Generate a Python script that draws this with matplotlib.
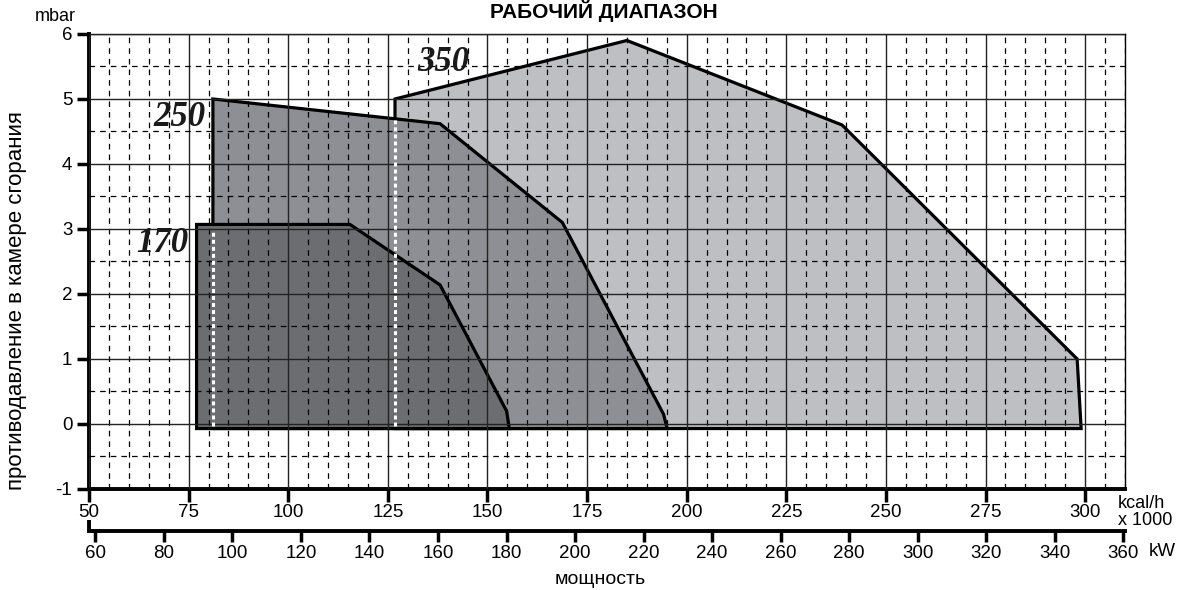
import numpy as np
import matplotlib.pyplot as plt
from matplotlib.patches import Polygon
from matplotlib.ticker import MultipleLocator

#%% data (kcal/h x 1000 , mbar)
kcal_350 = [126.8, 126.8, 185.0, 239.0, 298.0, 299.0]
mbar_350 = [-0.07, 5.0, 5.9, 4.6, 1.0, -0.07]

kcal_250 = [81.1, 81.1, 138.1, 168.8, 194.2, 195.1]
mbar_250 = [-0.07, 5.0, 4.62, 3.1, 0.15, -0.07]

kcal_170 = [77.0, 77.0, 115.5, 138.1, 154.8, 155.5]
mbar_170 = [-0.07, 3.07, 3.07, 2.14, 0.2, -0.07]

# hidden left edges (white dotted)
hidden_x = [81.1, 126.8]
hidden_top = [2.95, 4.67]

labels = ['350', '250', '170']
label_x = [138.9, 72.6, 68.3]
label_y = [5.56, 4.71, 2.77]

kcal_ticks = np.arange(50, 301, 25)
kw_ticks = np.arange(60, 361, 20)
y_ticks = np.arange(-1, 7, 1)

plt.rcParams['font.family'] = ['Liberation Sans', 'DejaVu Sans']
plt.rcParams['axes.unicode_minus'] = False

#%%
fig = plt.figure(figsize=(11.77, 5.90), dpi=100)
ax = fig.add_axes([0.0756, 0.1712, 0.8802, 0.7712])

cols = ['#bebfc3', '#8e8f94', '#6c6d71']
for xs, ys, c in zip([kcal_350, kcal_250, kcal_170], [mbar_350, mbar_250, mbar_170], cols):
    ax.add_patch(Polygon(np.column_stack([xs, ys]), closed=True, facecolor=c,
                         edgecolor='black', lw=2.3, zorder=1, joinstyle='miter'))

for hx, ht in zip(hidden_x, hidden_top):
    ax.plot([hx, hx], [-0.03, ht], color='white', lw=2.2, ls=(0, (1.3, 1.0)), zorder=3)

for t, lx, ly in zip(labels, label_x, label_y):
    ax.text(lx, ly, t, family=['Liberation Serif', 'DejaVu Serif'], style='italic',
            weight='bold', fontsize=25, ha='center', va='center', color='#1a1a1a', zorder=4)

ax.set_xlim(50, 310)
ax.set_ylim(-1, 6)
ax.set_xticks(kcal_ticks)
ax.set_yticks(y_ticks)
ax.xaxis.set_minor_locator(MultipleLocator(5))
ax.yaxis.set_minor_locator(MultipleLocator(0.5))
ax.set_axisbelow(False)
ax.grid(which='major', color='#222222', lw=1.0, ls='-')
ax.grid(which='minor', color='black', lw=0.9, ls=(0, (4.5, 4.0)))

ax.tick_params(which='major', direction='out', length=9, width=2.5, labelsize=13.5, pad=2)
ax.tick_params(which='minor', length=0)
ax.tick_params(axis='y', pad=3)
for s in ['left', 'bottom']:
    ax.spines[s].set_linewidth(2.8)
for s in ['top', 'right']:
    ax.spines[s].set_linewidth(1.0)

# second scale in kW
sec = ax.secondary_xaxis(-0.092, functions=(lambda v: v / 0.86, lambda v: v * 0.86))
sec.set_xticks(kw_ticks)
sec.tick_params(direction='out', length=8, width=2.5, labelsize=13.5, pad=2)
sec.spines['bottom'].set_linewidth(2.8)
ax.plot([0, 0], [-0.092, -0.068], transform=ax.transAxes, color='black', lw=2.8,
        clip_on=False, solid_capstyle='butt')

# texts
fig.text(604 / 1177, 1 - 18 / 590, 'РАБОЧИЙ ДИАПАЗОН', ha='center', va='baseline',
         fontsize=15, weight='bold')
fig.text(55 / 1177, 1 - 21 / 590, 'mbar', ha='center', va='baseline', fontsize=13)
fig.text(17 / 1177, 1 - 301 / 590, 'противодавление в камере сгорания', rotation=90,
         ha='center', va='center', fontsize=16)
fig.text(600 / 1177, 1 - 579 / 590, 'мощность', ha='center', va='center', fontsize=14)
fig.text(1118 / 1177, 1 - 512 / 590, 'kcal/h\nx 1000', ha='left', va='center',
         fontsize=13, linespacing=1.0)
fig.text(1149 / 1177, 1 - 551 / 590, 'kW', ha='left', va='center', fontsize=13.5)

plt.savefig('out.png', dpi=100)
